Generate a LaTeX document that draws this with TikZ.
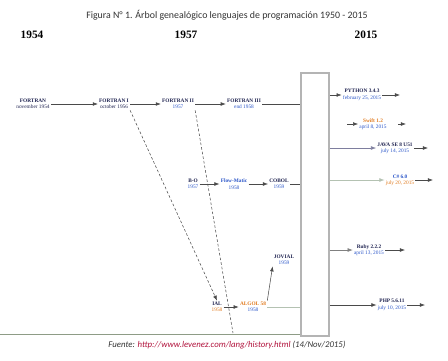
\documentclass[tikz,border=0pt]{standalone}
\usepackage{fontspec}
\setmainfont{Liberation Serif}
\newfontfamily\carlito{Carlito}
\usepackage{xcolor}
\usepackage{tikz}
\usetikzlibrary{arrows.meta, positioning, calc}

\definecolor{namec}{HTML}{1F2350}
\definecolor{datec}{HTML}{2A55C8}
\definecolor{orangec}{HTML}{E07A1E}
\definecolor{linkc}{HTML}{B0103A}
\definecolor{linec}{HTML}{4A4A4A}
\definecolor{boxc}{HTML}{B4B4B4}
\definecolor{basec}{HTML}{8E9C86}
\definecolor{javac}{HTML}{7E7E9E}
\definecolor{csharpc}{HTML}{B4C2B2}

\begin{document}
\begin{tikzpicture}[x=0.75pt, y=-0.75pt,
  lang/.style={align=center, inner sep=0.8pt, font=\fontsize{4}{4.8}\selectfont},
  year/.style={font=\fontsize{8.5}{10}\selectfont\bfseries},
  link/.style={draw=linec, line width=0.4pt},
  arr/.style={link, -{Latex[length=3.8pt, width=2.8pt]}},
  dasharr/.style={arr, dashed, dash pattern=on 2pt off 1.5pt},
  era/.style={draw=boxc, line width=1.3pt, minimum width=21pt, minimum height=197pt, inner sep=0pt}]
\useasboundingbox (0,0) rectangle (448,360);

% title and years
\node[font=\carlito\fontsize{7.4}{9}\selectfont, text=black!80] (title) at (227,15) {Figura N\textdegree\ 1. Árbol genealógico lenguajes de programación 1950 - 2015};
\node[year] (y1954) at (32,35) {1954};
\node[year] (y1957) at (186,35) {1957};
\node[year] (y2015) at (366,35) {2015};

% the 2015 column
\node[era] (box) at (315,204.5) {};
\draw[draw=basec, line width=0.5pt] (0,334) coordinate (base) -- (base -| box.west);

% FORTRAN branch
\node[lang] (fortran) at (33,104) {\textcolor{namec}{\bfseries FORTRAN}\\\textcolor{namec}{november 1954}};
\node[lang] (fortrani) at (114,104) {\textcolor{namec}{\bfseries FORTRAN I}\\\textcolor{namec}{october 1956}};
\node[lang] (fortranii) at (178,104) {\textcolor{namec}{\bfseries FORTRAN II}\\\textcolor{datec}{1957}};
\node[lang] (fortraniii) at (244,104) {\textcolor{namec}{\bfseries FORTRAN III}\\\textcolor{datec}{end 1958}};
\draw[arr] (fortran) -- (fortrani);
\draw[arr] (fortrani) -- (fortranii);
\draw[arr] (fortranii) -- (fortraniii);
\draw[link] (fortraniii) -- (fortraniii -| box.west);

% COBOL branch
\node[lang] (bo) at (193,184) {\textcolor{namec}{\bfseries B-O}\\\textcolor{datec}{1957}};
\node[lang] (flowmatic) at (234,184) {\textcolor{datec}{\bfseries Flow-Matic}\\\textcolor{datec}{1958}};
\node[lang] (cobol) at (279,184) {\textcolor{namec}{\bfseries COBOL}\\\textcolor{datec}{1959}};
\draw[arr] (bo) -- (flowmatic);
\draw[arr] (flowmatic) -- (cobol);
\draw[link] (cobol) -- (cobol -| box.west);

% ALGOL branch
\node[lang] (ial) at (217,307) {\textcolor{namec}{\bfseries IAL}\\\textcolor{orangec}{1958}};
\node[lang] (algol) at (253,307) {\textcolor{orangec}{\bfseries ALGOL 58}\\\textcolor{datec}{1958}};
\node[lang] (jovial) at (284,260) {\textcolor{namec}{\bfseries JOVIAL}\\\textcolor{datec}{1959}};
\draw[arr] (ial) -- (algol);
\draw[arr] (algol.north east) -- (jovial.south west);
\draw[draw=csharpc, line width=0.5pt] (algol) -- (algol -| box.west);

% dashed influences
\coordinate (fiiend) at (233,333);
\draw[dasharr] (fortrani.south east) -- (ial.north);
\draw[link, dashed, dash pattern=on 2pt off 1.5pt] (fortranii.south east) -- (fiiend);

% 2015 releases
\node[lang] (python) at (362,95) {\textcolor{namec}{\bfseries PYTHON 3.4.3}\\\textcolor{datec}{february 25, 2015}};
\node[lang] (swift) at (373,124) {\textcolor{orangec}{\bfseries Swift 1.2}\\\textcolor{datec}{april 8, 2015}};
\node[lang] (java) at (395,148) {\textcolor{namec}{\bfseries JAVA SE 8 U51}\\\textcolor{datec}{july 14, 2015}};
\node[lang] (csharp) at (400,180) {\textcolor{datec}{\bfseries C\# 6.0}\\\textcolor{orangec}{july 20, 2015}};
\node[lang] (ruby) at (369,250) {\textcolor{namec}{\bfseries Ruby 2.2.2}\\\textcolor{datec}{april 13, 2015}};
\node[lang] (php) at (392,305) {\textcolor{namec}{\bfseries PHP 5.6.11}\\\textcolor{datec}{july 10, 2015}};

\coordinate (swifta) at (347,124);
\coordinate (swiftb) at (398,124);
\coordinate (swiftz) at (406,124);
\coordinate (pythonz) at (400,95);
\coordinate (javaz) at (428,148);
\coordinate (csharpz) at (433,180);
\coordinate (rubyz) at (405,250);
\coordinate (phpz) at (425,305);

\draw[arr] (box.east |- python) -- (python);
\draw[arr] (python) -- (pythonz);
\draw[arr] (swifta) -- (swift);
\draw[arr] (swiftb) -- (swiftz);
\draw[arr, draw=javac] (box.east |- java) -- (java);
\draw[arr] (java) -- (javaz);
\draw[arr, draw=csharpc] (box.east |- csharp) -- (csharp);
\draw[arr] (csharp) -- (csharpz);
\draw[arr, draw=gray] (box.east |- ruby) -- (ruby);
\draw[arr] (ruby) -- (rubyz);
\draw[arr] (box.east |- php) -- (php);
\draw[arr] (php) -- (phpz);

% source
\node[font=\carlito\itshape\fontsize{6.6}{8}\selectfont, text=black!80] (source) at (227,345) {Fuente: \textcolor{linkc}{http://www.levenez.com/lang/history.html} (14/Nov/2015)};
\end{tikzpicture}
\end{document}
